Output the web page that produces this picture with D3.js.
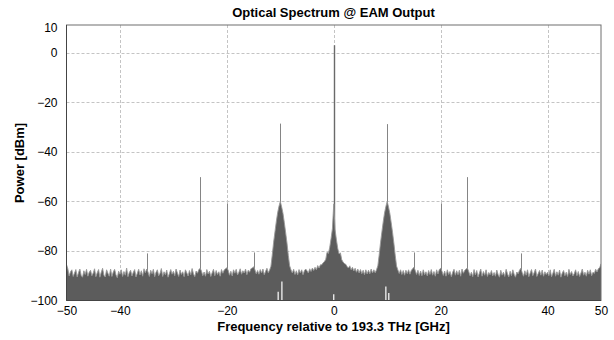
<!DOCTYPE html>
<html>
<head>
<meta charset="utf-8">
<script src="https://cdn.jsdelivr.net/npm/d3@7"></script>
<style>
  body { margin: 0; background: #fff; }
  svg { display: block; font-family: "Liberation Sans", Arial, sans-serif; }
  .tick text { font-size: 12px; fill: #000; }
</style>
</head>
<body>
<script>
// spectrum samples, -50 GHz .. +50 GHz every 0.25 GHz (dBm)
var noiseStart = -50, noiseStep = 0.25;
var noisePower = [
  -85.5,-87.2,-90.1,-88.4,-87.6,-90.3,-88.9,-87.5,-90.5,-88.7,-87.3,-89.9,-90.6,-88.0,-89.5,-87.4,-90.2,-88.6,-87.8,-90.0,
  -88.9,-87.2,-90.4,-88.8,-87.5,-90.6,-88.6,-87.0,-89.8,-90.5,-87.6,-89.0,-90.2,-87.3,-90.3,-88.5,-87.4,-89.6,-90.8,-88.2,
  -89.4,-87.6,-90.3,-88.3,-89.8,-86.9,-90.4,-88.7,-87.8,-90.1,-88.6,-87.5,-90.5,-89.0,-87.4,-89.7,-88.0,-90.2,-87.2,-88.8,
  -87.3,-88.5,-90.3,-87.8,-89.2,-87.4,-90.4,-88.6,-87.6,-90.0,-89.0,-87.1,-90.3,-88.4,-89.6,-87.7,-90.6,-89.1,-87.5,-89.4,
  -88.2,-90.0,-87.3,-88.9,-90.3,-87.7,-89.5,-88.4,-90.4,-87.6,-88.8,-90.1,-87.9,-89.6,-87.1,-89.2,-90.4,-88.1,-89.0,-87.6,
  -87.0,-88.1,-90.0,-88.5,-90.2,-87.5,-89.3,-88.2,-90.3,-88.8,-87.4,-90.0,-87.9,-89.5,-88.4,-90.2,-87.5,-89.0,-87.7,-87.2,
  -86.8,-87.8,-89.8,-88.2,-90.1,-87.6,-89.0,-87.4,-89.7,-88.6,-87.2,-89.4,-88.0,-88.9,-87.3,-89.6,-87.8,-88.6,-87.2,-86.9,
  -86.4,-87.6,-89.2,-87.9,-89.4,-87.5,-88.9,-87.3,-89.6,-88.2,-87.0,-88.8,-87.7,-86.2,-81.5,-76.5,-72.3,-68.2,-64.6,-62.0,
  -60.0,-62.2,-64.8,-68.5,-72.6,-76.8,-81.8,-86.0,-87.6,-88.9,-87.4,-89.5,-88.0,-89.7,-87.5,-88.9,-87.6,-89.6,-88.0,-87.3,
  -88.0,-88.9,-87.2,-88.3,-86.9,-87.9,-86.6,-87.6,-85.9,-86.9,-85.6,-85.6,-84.8,-84.3,-83.4,-80.5,-81.0,-78.5,-75.0,-71.0,
  -61.0,-71.5,-75.5,-79.0,-81.2,-80.8,-83.6,-84.5,-85.1,-85.4,-86.3,-86.9,-86.0,-87.6,-86.6,-88.1,-87.0,-88.6,-87.3,-88.9,
  -87.5,-89.2,-87.8,-89.6,-87.6,-89.3,-87.8,-89.2,-87.3,-88.9,-87.6,-88.8,-87.6,-86.0,-81.6,-76.7,-72.4,-68.3,-64.7,-62.1,
  -60.0,-62.3,-64.9,-68.6,-72.5,-76.9,-81.7,-86.1,-87.7,-89.1,-87.6,-89.5,-87.9,-89.8,-87.8,-89.2,-87.6,-89.4,-87.9,-87.2,
  -86.6,-87.9,-89.5,-87.8,-89.9,-88.1,-90.0,-87.6,-89.6,-88.4,-90.1,-87.9,-89.5,-87.5,-89.8,-88.3,-90.2,-87.6,-89.3,-87.5,
  -87.0,-88.2,-89.9,-88.1,-90.2,-87.6,-89.5,-88.3,-90.4,-88.6,-87.4,-89.8,-88.0,-89.6,-87.8,-90.2,-87.3,-89.0,-87.9,-87.3,
  -86.9,-88.3,-90.0,-88.6,-90.4,-87.5,-89.7,-87.9,-90.5,-88.9,-87.3,-90.2,-88.3,-89.8,-87.6,-90.3,-88.7,-89.6,-87.9,-90.1,
  -88.7,-90.2,-87.7,-89.5,-90.6,-87.8,-89.8,-88.6,-90.3,-87.4,-89.2,-90.5,-88.2,-90.0,-87.6,-89.4,-90.6,-88.5,-89.2,-87.8,
  -87.0,-88.7,-90.2,-88.0,-89.8,-87.6,-90.4,-88.9,-87.5,-90.0,-88.7,-87.3,-90.3,-89.1,-87.9,-89.8,-87.7,-90.2,-88.4,-89.5,
  -88.6,-90.0,-87.6,-90.4,-89.0,-87.4,-90.2,-88.4,-89.8,-87.7,-90.6,-88.9,-87.9,-90.0,-88.6,-90.3,-87.4,-89.5,-88.3,-90.1,
  -89.1,-87.6,-90.0,-88.3,-90.3,-88.9,-87.3,-89.8,-88.6,-90.2,-87.8,-89.4,-87.6,-90.0,-88.6,-89.1,-87.4,-88.5,-87.2,-86.8,
  -85.2
];

// discrete tones (GHz, dBm)
var toneFreq  = [-35, -25, -20, -15, -10, 0, 10, 15, 20, 25, 35];
var tonePower = [-81, -50.2, -60.8, -80.6, -28.6, 3, -28.8, -80.6, -60.8, -50.2, -81];

// places where the noise minimum sits above the floor (GHz, dBm)
var dipFreq  = [-10.4, -9.7, 0, 9.75, 10.3];
var dipPower = [-96.5, -92.3, -97.5, -94.3, -97];

var xTicks = [-50, -40, -20, 0, 20, 40, 50];
var xGrid  = [-40, -20, 0, 20, 40];
var yTicks = [10, 0, -20, -40, -60, -80, -100];
var yGrid  = [0, -20, -40, -60, -80];

var W = 614, H = 340;
var plot = {left: 66.5, right: 601, top: 25, bottom: 300.5};

var svg = d3.select('body').append('svg')
  .attr('width', W)
  .attr('height', H);

var x = d3.scaleLinear().domain([-50, 50]).range([plot.left, plot.right]);
var y = d3.scaleLinear().domain([-100, 10]).range([plot.bottom, 28]);

svg.append('defs').append('clipPath').attr('id', 'clip')
  .append('rect')
  .attr('x', plot.left).attr('y', plot.top)
  .attr('width', plot.right - plot.left)
  .attr('height', plot.bottom - plot.top);

// grid
svg.append('g').selectAll('line')
  .data(xGrid).enter().append('line')
  .attr('x1', function(d) { return Math.round(x(d)) + 0.5; })
  .attr('x2', function(d) { return Math.round(x(d)) + 0.5; })
  .attr('y1', plot.top).attr('y2', plot.bottom)
  .attr('stroke', '#c4c4c4').attr('stroke-dasharray', '3,2');

svg.append('g').selectAll('line')
  .data(yGrid).enter().append('line')
  .attr('x1', plot.left).attr('x2', plot.right)
  .attr('y1', function(d) { return Math.round(y(d)) + 0.5; })
  .attr('y2', function(d) { return Math.round(y(d)) + 0.5; })
  .attr('stroke', '#c4c4c4').attr('stroke-dasharray', '3,2');

var data = noisePower.map(function(p, i) { return {f: noiseStart + i * noiseStep, p: p}; });

var g = svg.append('g').attr('clip-path', 'url(#clip)');

// tones first so the noise body covers their feet
g.selectAll('line.tone')
  .data(toneFreq).enter().append('line')
  .attr('class', 'tone')
  .attr('x1', function(d) { return Math.round(x(d)) + 0.5; })
  .attr('x2', function(d) { return Math.round(x(d)) + 0.5; })
  .attr('y1', function(d, i) { return y(tonePower[i]); })
  .attr('y2', y(-95))
  .attr('stroke', function(d) { return d === 0 ? '#6a6a6a' : '#858585'; })
  .attr('stroke-width', function(d) { return d === 0 ? 1.4 : 1; });

var area = d3.area()
  .x(function(d) { return x(d.f); })
  .y0(y(-100))
  .y1(function(d) { return y(d.p); });

g.append('path')
  .datum(data)
  .attr('d', area)
  .attr('fill', '#5c5c5c');

g.append('path')
  .datum(data)
  .attr('d', d3.line().x(function(d) { return x(d.f); }).y(function(d) { return y(d.p); }))
  .attr('fill', 'none')
  .attr('stroke', '#999')
  .attr('stroke-width', 0.9);

g.selectAll('line.dip')
  .data(dipFreq).enter().append('line')
  .attr('class', 'dip')
  .attr('x1', function(d) { return x(d); })
  .attr('x2', function(d) { return x(d); })
  .attr('y1', function(d, i) { return y(dipPower[i]); })
  .attr('y2', y(-100))
  .attr('stroke', '#fff')
  .attr('stroke-width', 1.2);

// frame
svg.append('rect')
  .attr('x', plot.left).attr('y', plot.top)
  .attr('width', plot.right - plot.left)
  .attr('height', plot.bottom - plot.top)
  .attr('fill', 'none')
  .attr('stroke', '#6e6e6e');
svg.append('line')
  .attr('x1', plot.left).attr('x2', plot.left)
  .attr('y1', plot.top).attr('y2', plot.bottom)
  .attr('stroke', '#444');
svg.append('line')
  .attr('x1', plot.left).attr('x2', plot.right)
  .attr('y1', plot.bottom).attr('y2', plot.bottom)
  .attr('stroke', '#444');

// axes
var xAxis = d3.axisBottom(x).tickValues(xTicks).tickSize(0).tickPadding(6)
  .tickFormat(d3.format('d'));
svg.append('g')
  .attr('transform', 'translate(0,' + plot.bottom + ')')
  .call(xAxis)
  .attr('font-family', null)
  .call(function(s) { s.select('.domain').remove(); });

var yAxis = d3.axisLeft(y).tickValues(yTicks).tickSize(0).tickPadding(9)
  .tickFormat(d3.format('d'));
svg.append('g')
  .attr('transform', 'translate(' + plot.left + ',0)')
  .call(yAxis)
  .attr('font-family', null)
  .call(function(s) { s.select('.domain').remove(); });

// titles
svg.append('text')
  .attr('x', 333.5).attr('y', 17)
  .attr('text-anchor', 'middle')
  .style('font-size', '13px').style('font-weight', 'bold')
  .text('Optical Spectrum @ EAM Output');

svg.append('text')
  .attr('x', 333.5).attr('y', 331)
  .attr('text-anchor', 'middle')
  .style('font-size', '13px').style('font-weight', 'bold')
  .text('Frequency relative to 193.3 THz [GHz]');

svg.append('text')
  .attr('transform', 'translate(24,163) rotate(-90)')
  .attr('text-anchor', 'middle')
  .style('font-size', '13px').style('font-weight', 'bold')
  .text('Power [dBm]');
</script>
</body>
</html>
